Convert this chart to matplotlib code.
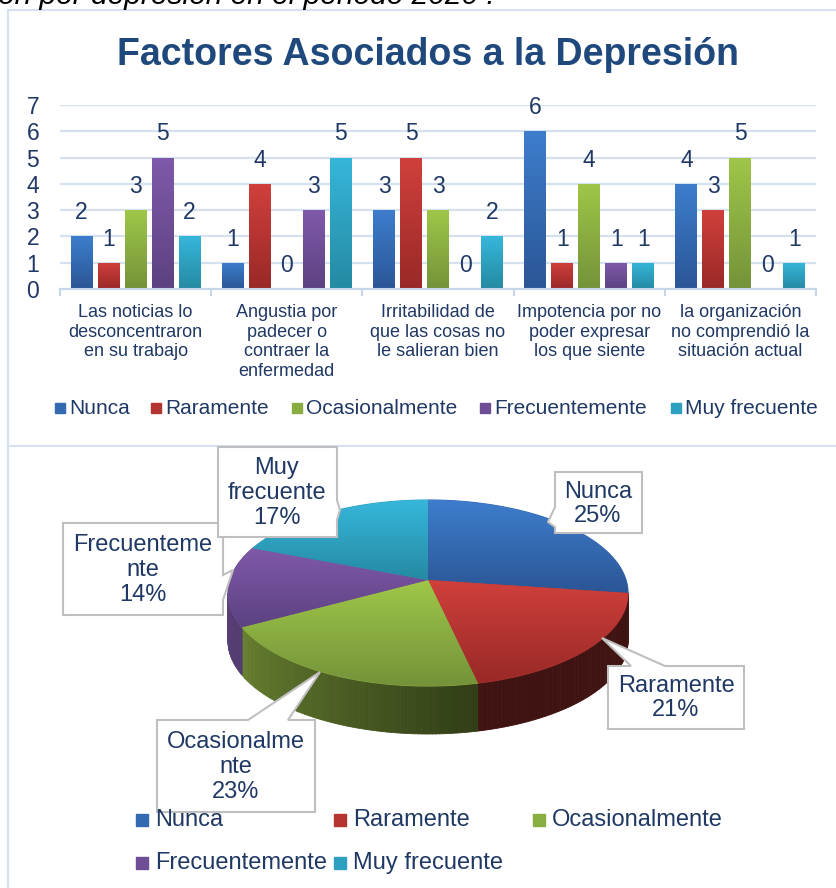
import numpy as np
import matplotlib
matplotlib.use("Agg")
import matplotlib.pyplot as plt
from matplotlib.patches import Polygon, Rectangle
from matplotlib.collections import PolyCollection
from matplotlib.colors import to_rgb

plt.rcParams['font.family'] = ['Liberation Sans', 'DejaVu Sans']

W, H = 836, 888

# --- data -------------------------------------------------------------
categories = [
    "Las noticias lo\ndesconcentraron\nen su trabajo",
    "Angustia por\npadecer o\ncontraer la\nenfermedad",
    "Irritabilidad de\nque las cosas no\nle salieran bien",
    "Impotencia por no\npoder expresar\nlos que siente",
    "la organización\nno comprendió la\nsituación actual",
]
series = ["Nunca", "Raramente", "Ocasionalmente", "Frecuentemente", "Muy frecuente"]
nunca = [2, 1, 3, 6, 4]
raramente = [1, 4, 5, 1, 3]
ocasionalmente = [3, 0, 3, 4, 5]
frecuentemente = [5, 3, 0, 1, 0]
muy_frecuente = [2, 5, 2, 1, 1]
bar_values = [nunca, raramente, ocasionalmente, frecuentemente, muy_frecuente]

pie_pct = [25, 21, 23, 14, 17]
pie_names = ["Nunca", "Raramente", "Ocasionalme\nnte", "Frecuenteme\nnte", "Muy\nfrecuente"]

title = "Factores Asociados a la Depresión"
caption = "ón por depresión en el periodo 2020 ."

# colours (top / bottom of the gradient)
c_top = ["#3D7DCC", "#D0403C", "#9FC648", "#8059AA", "#36B6DA"]
c_bot = ["#2B5696", "#992927", "#74933A", "#5C4281", "#258AA3"]
text_col = "#1F3864"
frame_col = "#D4E1F1"


def mix(a, b, t=0.5):
    a, b = np.array(to_rgb(a)), np.array(to_rgb(b))
    return a + (b - a) * t


def gradient(ax, clip, x0, x1, y_top, y_bot, ct, cb, z):
    n = 64
    t = np.linspace(0, 1, n)[:, None]
    img = (np.array(to_rgb(ct)) + t * (np.array(to_rgb(cb)) - np.array(to_rgb(ct))))[:, None, :]
    im = ax.imshow(img, extent=(x0, x1, y_bot, y_top), origin="upper",
                   aspect="auto", interpolation="bilinear", zorder=z)
    im.set_clip_path(clip)


fig = plt.figure(figsize=(W / 100, H / 100), dpi=100)

# --- bar chart --------------------------------------------------------
ax = fig.add_axes([60 / W, 1 - 289 / H, 756 / W, 184 / H])
x = np.arange(len(categories))
step, bw = 0.1786, 0.1455
for i, vals in enumerate(bar_values):
    bars = ax.bar(x + (i - 2) * step, vals, width=bw, color=mix(c_top[i], c_bot[i]), zorder=2)
    for rect, v in zip(bars, vals):
        if v > 0:
            gradient(ax, rect, rect.get_x(), rect.get_x() + bw, v, 0, c_top[i], c_bot[i], 2.5)
        ax.annotate(str(v), (rect.get_x() + bw / 2, v), xytext=(0, 17),
                    textcoords="offset points", ha="center", va="center",
                    fontsize=16.5, color=text_col)

ax.set_xlim(-0.5, 4.5)
ax.set_ylim(0, 7)
ax.set_yticks(range(8))
ax.tick_params(axis="y", length=0, pad=15, labelsize=16.5, labelcolor=text_col)
ax.yaxis.grid(True, color="#D6E1EF", lw=1.6)
ax.set_axisbelow(True)
for s in ["left", "top", "right"]:
    ax.spines[s].set_visible(False)
ax.spines["bottom"].set_color("#C5D5EA")
ax.spines["bottom"].set_linewidth(1.5)
ax.set_xticks(x)
ax.set_xticklabels(categories, fontsize=13, color=text_col, linespacing=1.2)
ax.tick_params(axis="x", length=0, pad=11)
ax.set_xticks(np.arange(-0.5, 5, 1), minor=True)
ax.tick_params(axis="x", which="minor", length=5, width=1.5, color="#C5D5EA")
ax.patch.set_alpha(0)

# --- overlay in pixel coordinates -------------------------------------
ov = fig.add_axes([0, 0, 1, 1])
ov.patch.set_alpha(0)

ov.plot([8, W], [10, 10], color=frame_col, lw=1.5)
ov.plot([8, 8], [10, H], color=frame_col, lw=1.5)
ov.plot([8, W], [446, 446], color=frame_col, lw=1.5)

ov.text(-2, 4, caption, fontsize=21.5, style="italic", color="black", va="baseline")
ov.text(428, 55, title, fontsize=27, weight="bold", color="#1F497D", ha="center", va="center")

# top legend
top_leg_x = [69, 165, 306, 494, 685]
for i, name in enumerate(series):
    ov.add_patch(Rectangle((top_leg_x[i] - 14, 403), 10, 10, color=mix(c_top[i], c_bot[i])))
    ov.text(top_leg_x[i], 408, name, fontsize=15, color=text_col, va="center")

# --- 3D pie -----------------------------------------------------------
cx, cy, rx, ry, depth = 428, 593, 200, 93, 48
apex = (428, 580)
total = sum(pie_pct)


def ell(th, dy=0.0):
    t = np.radians(th)
    return np.column_stack([cx + rx * np.cos(t), cy - ry * np.sin(t) + dy])


start = 90.0
spans = []
for v in pie_pct:
    sweep = 360.0 * v / total
    spans.append((start, start - sweep))
    start -= sweep

# side walls (front half only)
quads, qcols = [], []
for i, (s, e) in enumerate(spans):
    lo, hi = max(e, -180.0), min(s, 0.0)
    if lo >= hi:
        continue
    th = np.linspace(lo, hi, max(int(hi - lo), 2) + 1)
    top = ell(th)
    bot = ell(th, depth)
    base = mix(c_top[i], c_bot[i], 0.3)
    for k in range(len(th) - 1):
        quads.append([top[k], top[k + 1], bot[k + 1], bot[k]])
        tp = (th[k] + th[k + 1]) / 2 + 360
        f = 0.75 - 0.42 * np.clip((tp - 190) / 95, 0, 1)
        qcols.append(np.clip(base * f, 0, 1))
ov.add_collection(PolyCollection(quads, facecolors=qcols, edgecolors=qcols, linewidths=0.6, zorder=2))

# top faces
for i, (s, e) in enumerate(spans):
    arc = ell(np.linspace(s, e, 120))
    verts = np.vstack([[apex], arc])
    poly = Polygon(verts, closed=True, facecolor=mix(c_top[i], c_bot[i]),
                   edgecolor=mix(c_top[i], c_bot[i]), lw=0.8, zorder=3)
    ov.add_patch(poly)
    gradient(ov, poly, verts[:, 0].min(), verts[:, 0].max(),
             verts[:, 1].min(), verts[:, 1].max(), c_top[i], c_bot[i], 3.1)

# callout labels: box, pointer side, pointer base, tip, text centre
callouts = [
    ((555, 472, 642, 533), "left", (507, 527), (548, 522), (598, 504)),
    ((608, 666, 744, 729), "top", (631, 665), (602, 638), (676, 698)),
    ((157, 720, 315, 812), "top", (248, 288), (320, 672), (236, 767)),
    ((63, 523, 223, 615), "right", (575, 600), (233, 570), (143, 570)),
    ((218, 447, 337, 537), "right", (500, 520), (340, 510), (277, 493)),
]


def callout_verts(box, side, base, tip):
    x0, y0, x1, y1 = box
    b0, b1 = base
    if side == "top":
        return [(x0, y0), (b0, y0), tip, (b1, y0), (x1, y0), (x1, y1), (x0, y1)]
    if side == "right":
        return [(x0, y0), (x1, y0), (x1, b0), tip, (x1, b1), (x1, y1), (x0, y1)]
    return [(x0, y0), (x1, y0), (x1, y1), (x0, y1), (x0, b1), tip, (x0, b0)]


for i, (box, side, base, tip, tc) in enumerate(callouts):
    ov.add_patch(Polygon(callout_verts(box, side, base, tip), closed=True,
                         facecolor="white", edgecolor="#BFBFBF", lw=1.5, zorder=5))
    ov.text(tc[0], tc[1], f"{pie_names[i]}\n{pie_pct[i]}%", fontsize=17, color=text_col,
            ha="center", va="center", linespacing=1.15, zorder=6)

# bottom legend
bot_leg = [(155, 820), (353, 820), (552, 820), (155, 863), (353, 863)]
for i, name in enumerate(series):
    lx, ly = bot_leg[i]
    ov.add_patch(Rectangle((lx - 19, ly - 6), 12, 12, color=mix(c_top[i], c_bot[i]), zorder=6))
    ov.text(lx, ly, name, fontsize=17, color=text_col, va="center", zorder=6)

ov.set_xlim(0, W)
ov.set_ylim(H, 0)
ov.axis("off")

fig.savefig("out.png", dpi=100, facecolor="white")
